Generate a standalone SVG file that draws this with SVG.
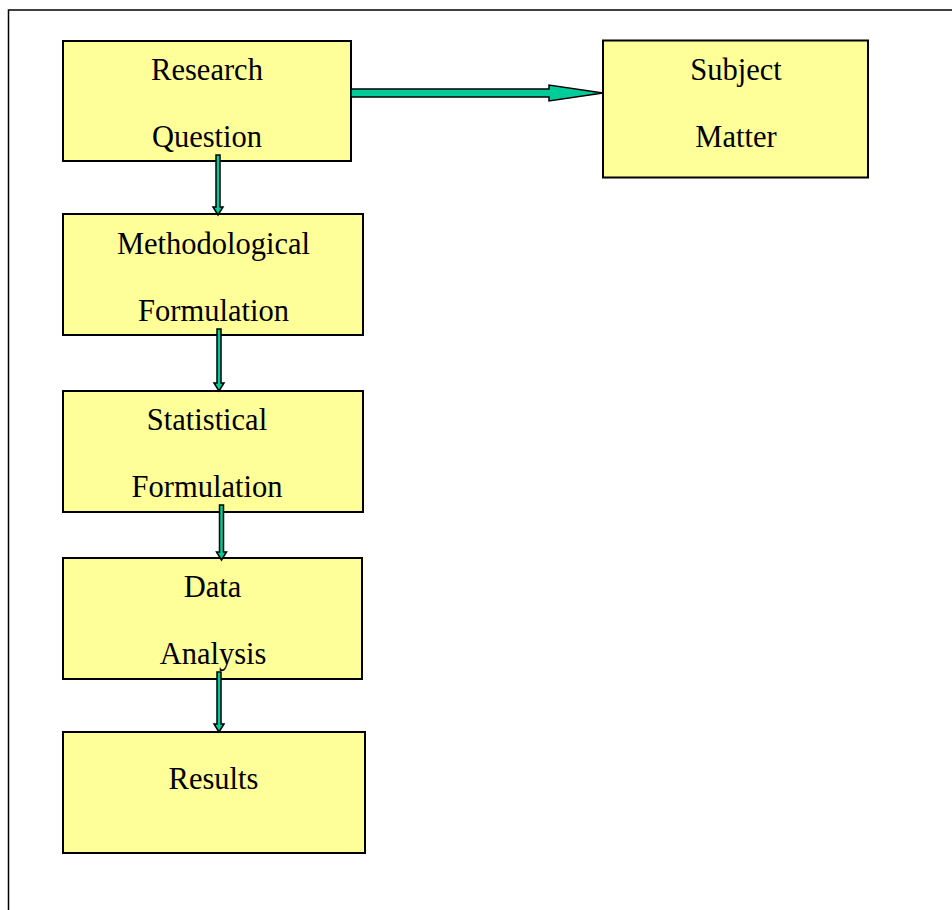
<svg xmlns="http://www.w3.org/2000/svg" width="952" height="910" viewBox="0 0 952 910">
<style>
.box{fill:#FFFF99;stroke:#000;stroke-width:2}
.t{font-family:"Liberation Serif","Times New Roman",serif;font-size:30.5px;fill:#000;text-anchor:middle}
.arr{fill:#00CC99;stroke:#000;stroke-width:1.5;stroke-linejoin:miter}
</style>
<rect x="0" y="0" width="952" height="910" fill="#fff"/>
<rect x="8.5" y="10" width="1000" height="1000" fill="none" stroke="#000" stroke-width="1.5"/>
<g id="n-research">
<rect class="box" x="63" y="41" width="288" height="120"/>
<text class="t" x="207" y="80">Research</text>
<text class="t" x="207" y="147">Question</text>
</g>
<g id="n-subject">
<rect class="box" x="603" y="40.5" width="265" height="137"/>
<text class="t" x="736" y="80">Subject</text>
<text class="t" x="736" y="147">Matter</text>
</g>
<g id="n-method">
<rect class="box" x="63" y="214" width="300" height="121"/>
<text class="t" x="213.5" y="254">Methodological</text>
<text class="t" x="213.5" y="321">Formulation</text>
</g>
<g id="n-stat">
<rect class="box" x="63" y="391" width="300" height="121"/>
<text class="t" x="207" y="430">Statistical</text>
<text class="t" x="207" y="497">Formulation</text>
</g>
<g id="n-data">
<rect class="box" x="63" y="558" width="299" height="121"/>
<text class="t" x="212.5" y="597">Data</text>
<text class="t" x="213" y="664">Analysis</text>
</g>
<g id="n-results">
<rect class="box" x="63" y="732" width="302" height="121"/>
<text class="t" x="213.5" y="789">Results</text>
</g>
<g id="connectors">
<polygon class="arr" points="351,89 549,89 549,85 603,93 549,101 549,97 351,97"/>
<polygon class="arr" points="216,155 220,155 220,207 223,207 218,215 213,207 216,207"/>
<polygon class="arr" points="217,329 221,329 221,383 224,383 219,391 214,383 217,383"/>
<polygon class="arr" points="219.5,505 223.5,505 223.5,552 226.5,552 221.5,560 216.5,552 219.5,552"/>
<polygon class="arr" points="217,672 221,672 221,724 224,724 219,732 214,724 217,724"/>
</g>
</svg>
